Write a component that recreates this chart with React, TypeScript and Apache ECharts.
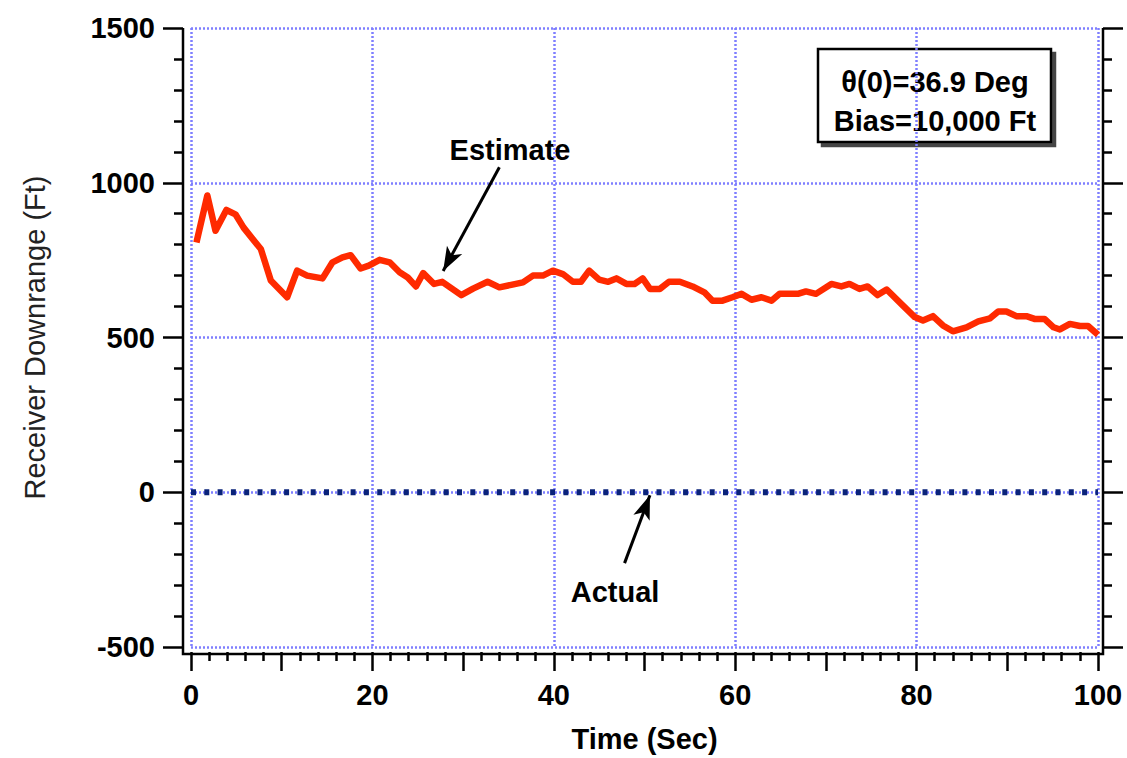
import React, { useEffect, useRef } from "react";
import * as echarts from "echarts";

const estT = [0.6,1.8,2.7,3.9,4.9,5.8,6.8,7.7,8.8,10.6,11.7,12.8,14.5,15.6,16.7,17.6,18.7,19.6,20.8,21.9,23.0,23.9,24.8,25.6,26.8,27.7,29.8,31.1,32.7,34.0,35.3,36.6,37.7,38.8,39.9,41.0,42.1,43.0,43.9,45.0,46.0,46.9,48.0,48.9,49.8,50.6,51.7,52.7,53.9,55.3,56.6,57.5,58.6,59.7,60.7,61.8,62.9,64.0,64.9,66.9,67.8,68.9,70.6,71.7,72.6,73.7,74.6,75.7,76.7,78.5,79.8,80.7,81.8,82.9,84.0,85.5,86.8,88.1,89.0,89.9,91.0,92.1,93.0,94.1,95.1,95.8,96.9,98.0,98.9,100];
const estV = [807,959,845,912,898,855,818,786,684,630,716,700,691,743,759,766,723,732,751,743,711,694,665,708,673,680,637,658,680,662,670,678,700,700,716,705,680,680,716,687,680,691,673,673,691,657,657,680,680,665,646,619,619,630,641,622,630,619,641,641,649,641,673,665,673,657,665,637,655,603,566,555,569,539,520,533,552,562,584,584,569,569,560,560,533,526,544,537,537,509];
const actT = [0, 100];
const actV = [0, 0];

const xMin = 0, xMax = 100, xLabelStep = 20, xTickStep = 10;
const yMin = -500, yMax = 1500, yStep = 500;

const boxLines = ["θ(0)=36.9 Deg", "Bias=10,000 Ft"];
const estimateArrow = [[34.0, 1050], [27.8, 715]];
const actualArrow = [[47.8, -229], [50.6, -10]];

const FONT = "'Liberation Sans', Arial, Helvetica, sans-serif";

export default function App() {
  const ref = useRef<HTMLDivElement>(null);
  useEffect(() => {
    if (!ref.current) return;
    const chart = echarts.init(ref.current, null, { renderer: "svg" });
    const gridColor = "#7f7fff";
    const tickStyle = { color: "#000", width: 2.5 };
    const gridLine = { show: true, lineStyle: { color: gridColor, width: 2.5, type: [2, 2] } };
    const option: any = {
      animation: false,
      backgroundColor: "#fff",
      textStyle: { fontFamily: FONT },
      grid: { left: 191, right: 29, top: 28, bottom: 109, containLabel: false },
      xAxis: [
        {
          type: "value", min: xMin, max: xMax, interval: xLabelStep, position: "bottom",
          axisLine: { show: false, onZero: false }, axisTick: { show: false },
          axisLabel: { show: true, margin: 33, fontSize: 29, fontWeight: "bold", color: "#000", fontFamily: FONT },
          splitLine: gridLine,
          name: "Time (Sec)", nameLocation: "middle", nameGap: 77,
          nameTextStyle: { fontSize: 29, fontWeight: "bold", color: "#000", fontFamily: FONT },
        },
        {
          type: "value", min: xMin, max: xMax, interval: xTickStep, position: "bottom", offset: 5,
          axisLine: { show: false, onZero: false },
          axisTick: { show: true, inside: false, length: 19, lineStyle: tickStyle },
          minorTick: { show: true, splitNumber: 5, length: 9, lineStyle: tickStyle },
          axisLabel: { show: false }, splitLine: { show: false },
        },
      ],
      yAxis: [
        {
          type: "value", min: yMin, max: yMax, interval: yStep, position: "left", offset: 8,
          axisLine: { show: false, onZero: false },
          axisTick: { show: true, inside: false, length: 20, lineStyle: tickStyle },
          minorTick: { show: true, splitNumber: 5, length: 9, lineStyle: tickStyle },
          axisLabel: { show: true, margin: 28, fontSize: 29, fontWeight: "bold", color: "#000", fontFamily: FONT, formatter: (v: number) => String(v) },
          splitLine: gridLine,
          name: "Receiver Downrange (Ft)", nameLocation: "middle", nameGap: 134,
          nameTextStyle: { fontSize: 29, color: "#222", fontFamily: FONT },
        },
        {
          type: "value", min: yMin, max: yMax, interval: yStep, position: "right", offset: 5,
          axisLine: { show: false, onZero: false },
          axisTick: { show: true, inside: false, length: 20, lineStyle: tickStyle },
          minorTick: { show: true, splitNumber: 5, length: 9, lineStyle: tickStyle },
          axisLabel: { show: false }, splitLine: { show: false },
        },
      ],
      series: [
        {
          type: "line", name: "Actual", xAxisIndex: 0, yAxisIndex: 0,
          data: actT.map((t, i) => [t, actV[i]]),
          showSymbol: false, symbol: "none",
          lineStyle: { color: "#0a237a", width: 6, type: [5, 8.3] },
          markLine: {
            silent: true, symbol: ["none", "arrow"], symbolSize: [13, 24],
            label: { show: false },
            lineStyle: { color: "#000", width: 3, type: "solid" },
            data: [[{ coord: actualArrow[0] }, { coord: actualArrow[1] }]],
          },
        },
        {
          type: "line", name: "Estimate", xAxisIndex: 0, yAxisIndex: 0,
          data: estT.map((t, i) => [t, estV[i]]),
          showSymbol: false, symbol: "none",
          lineStyle: { color: "#ff2a00", width: 6.5, join: "round" },
          markLine: {
            silent: true, symbol: ["none", "arrow"], symbolSize: [13, 24],
            label: { show: false },
            lineStyle: { color: "#000", width: 3, type: "solid" },
            data: [[{ coord: estimateArrow[0] }, { coord: estimateArrow[1] }]],
          },
        },
      ],
      graphic: [
        {
          type: "polyline", silent: true,
          shape: { points: [[183, 28], [183, 654], [1103, 654], [1103, 28]] },
          style: { stroke: "#000", lineWidth: 2.5, fill: null },
        },
        {
          type: "rect", silent: true,
          shape: { x: 818, y: 49, width: 233, height: 93 },
          style: { fill: "#fff", stroke: "#000", lineWidth: 2.5, shadowColor: "#444", shadowOffsetX: 4, shadowOffsetY: 4, shadowBlur: 0 },
        },
        {
          type: "text", x: 935, y: 82, silent: true,
          style: { text: boxLines[0], font: `bold 29px ${FONT}`, fill: "#000", align: "center", verticalAlign: "middle" },
        },
        {
          type: "text", x: 935, y: 121, silent: true,
          style: { text: boxLines[1], font: `bold 29px ${FONT}`, fill: "#000", align: "center", verticalAlign: "middle" },
        },
        {
          type: "text", x: 510, y: 150, silent: true,
          style: { text: "Estimate", font: `bold 29px ${FONT}`, fill: "#000", align: "center", verticalAlign: "middle" },
        },
        {
          type: "text", x: 615, y: 592, silent: true,
          style: { text: "Actual", font: `bold 29px ${FONT}`, fill: "#000", align: "center", verticalAlign: "middle" },
        },
      ],
    };
    chart.setOption(option);
    return () => chart.dispose();
  }, []);
  return <div ref={ref} style={{ position: "fixed", left: 0, top: 0, width: 1127, height: 758, background: "#fff" }} />;
}
